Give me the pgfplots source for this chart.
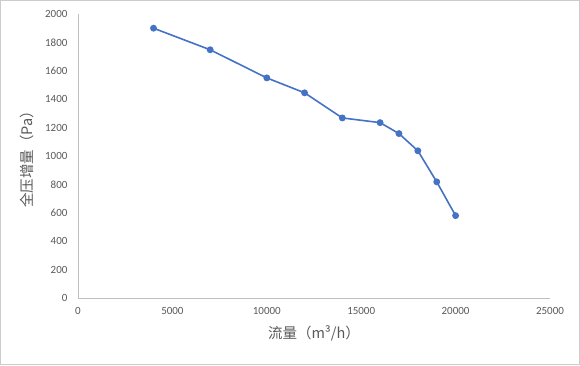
\documentclass[border=0pt]{standalone}
\usepackage{pgfplots}
\pgfplotsset{compat=1.18}
\usepackage{fontspec}
\setmainfont{Carlito}
\newfontfamily\cjk{Noto Sans CJK SC}
\definecolor{tickgray}{HTML}{595959}
\definecolor{axgray}{HTML}{BFBFBF}
\definecolor{lineblue}{HTML}{4472C4}
\begin{document}
\begin{tikzpicture}[x=1pt,y=1pt]
\draw[draw=axgray!80,line width=0.8pt,use as bounding box] (0.4,0.4) rectangle (579.6,364.6);
\begin{axis}[
  at={(78pt,67pt)}, anchor=origin,
  scale only axis, width=472pt, height=284pt,
  xmin=0, xmax=25000, ymin=0, ymax=2000,
  xtick={0,5000,...,25000}, ytick={0,200,...,2000},
  axis x line*=bottom, axis y line*=left,
  axis line style={draw=axgray, line width=0.8pt, -},
  tick style={draw=none},
  x tick label style={/pgf/number format/1000 sep={}, font=\fontsize{11}{12}\selectfont, text=tickgray, yshift=-6pt},
  y tick label style={/pgf/number format/1000 sep={}, font=\fontsize{11}{12}\selectfont, text=tickgray, xshift=-7pt},
  scaled x ticks=false, scaled y ticks=false,
  /pgf/number format/assume math mode=true,
  xlabel={\cjk 流量（m³/h）},
  ylabel={\cjk 全压增量（Pa）},
  xlabel style={font=\fontsize{14.5}{16}\selectfont, text=tickgray, yshift=-4pt},
  ylabel style={font=\fontsize{14.5}{16}\selectfont, text=tickgray, yshift=4pt},
  clip=false,
]
\addplot[color=lineblue, line width=1.6pt, mark=*, mark size=2.6pt, mark options={fill=lineblue, draw=lineblue}]
coordinates {
(4000,1900) (7000,1748) (10000,1550) (12000,1445) (14000,1268) (16000,1235) (17000,1158) (18000,1037) (19000,818) (20000,580)
};
\end{axis}
\end{tikzpicture}
\end{document}
